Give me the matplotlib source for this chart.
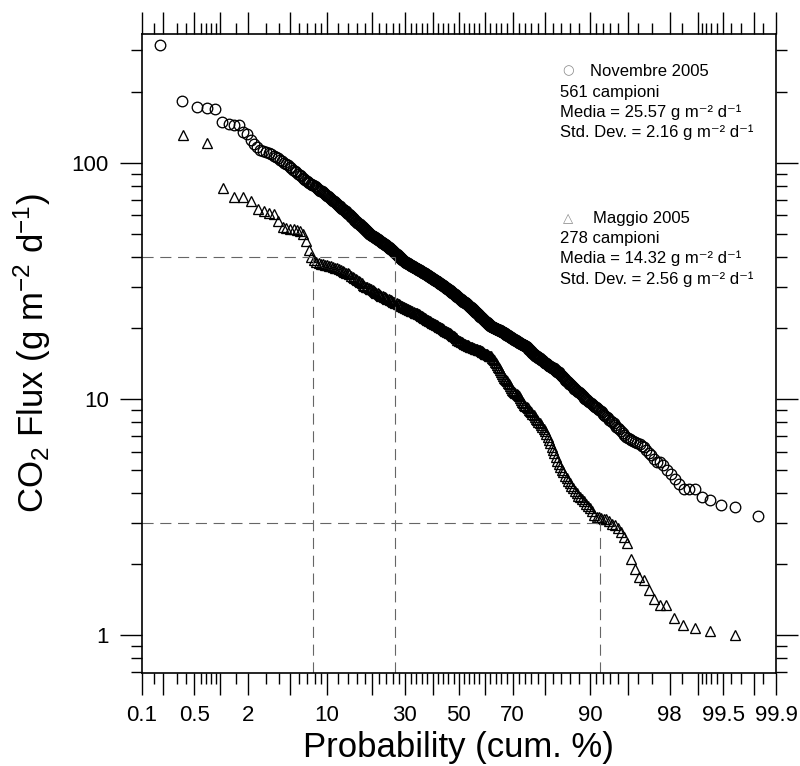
import numpy as np
import matplotlib
matplotlib.use("Agg")
import matplotlib.pyplot as plt
from matplotlib.ticker import FixedLocator, FixedFormatter, NullFormatter
from statistics import NormalDist

# CO2 flux (g m-2 d-1), one value per sample, sorted from highest to lowest
nov_2005 = [
    315, 184, 172, 171, 170, 149, 146, 145, 145, 135,
    133, 125, 120, 117, 114, 112, 111, 110, 109, 107,
    106, 105, 103.5, 102, 100.5, 99, 97.8, 96.4, 95, 93.8,
    92.6, 91.4, 90.2, 89.0, 87.8, 86.6, 85.5, 84.6, 83.9, 83.2,
    82.5, 81.8, 81.1, 80.4, 79.8, 79.1, 78.5, 77.8, 77.2, 76.5,
    75.9, 75.3, 74.7, 74.1, 73.5, 72.9, 72.3, 71.7, 71.1, 70.5,
    69.9, 69.3, 68.8, 68.2, 67.7, 67.1, 66.6, 66.1, 65.6, 65.1,
    64.7, 64.2, 63.8, 63.3, 62.9, 62.4, 62.0, 61.5, 61.1, 60.6,
    60.2, 59.8, 59.3, 58.9, 58.5, 58.0, 57.6, 57.1, 56.8, 56.4,
    56.0, 55.7, 55.3, 55.0, 54.6, 54.3, 53.9, 53.6, 53.2, 52.9,
    52.6, 52.2, 51.9, 51.6, 51.3, 50.9, 50.6, 50.3, 50.0, 49.7,
    49.5, 49.3, 49.1, 48.9, 48.7, 48.5, 48.3, 48.1, 47.9, 47.7,
    47.5, 47.3, 47.1, 46.9, 46.7, 46.5, 46.3, 46.1, 45.9, 45.7,
    45.5, 45.4, 45.2, 45.0, 44.8, 44.6, 44.4, 44.2, 44.0, 43.8,
    43.6, 43.4, 43.2, 43.0, 42.8, 42.6, 42.4, 42.2, 42.0, 41.8,
    41.6, 41.4, 41.2, 41.0, 40.8, 40.6, 40.4, 40.2, 40.0, 39.8,
    39.6, 39.4, 39.2, 39.0, 38.8, 38.6, 38.4, 38.3, 38.2, 38.1,
    37.9, 37.8, 37.7, 37.6, 37.5, 37.4, 37.3, 37.2, 37.1, 36.9,
    36.8, 36.7, 36.6, 36.5, 36.4, 36.3, 36.2, 36.1, 36.0, 35.9,
    35.8, 35.7, 35.6, 35.5, 35.4, 35.3, 35.2, 35.1, 35.0, 34.9,
    34.8, 34.7, 34.6, 34.5, 34.4, 34.3, 34.2, 34.1, 34.0, 33.9,
    33.8, 33.7, 33.6, 33.5, 33.4, 33.3, 33.2, 33.1, 33.0, 32.9,
    32.8, 32.7, 32.6, 32.5, 32.4, 32.3, 32.2, 32.1, 32.0, 31.9,
    31.8, 31.7, 31.6, 31.6, 31.5, 31.4, 31.3, 31.2, 31.1, 31.0,
    30.9, 30.8, 30.7, 30.6, 30.5, 30.4, 30.3, 30.2, 30.1, 30.0,
    29.9, 29.8, 29.7, 29.6, 29.5, 29.4, 29.3, 29.2, 29.1, 29.0,
    28.9, 28.8, 28.7, 28.6, 28.5, 28.4, 28.3, 28.2, 28.1, 28.0,
    27.9, 27.8, 27.7, 27.6, 27.5, 27.4, 27.3, 27.2, 27.1, 27.0,
    26.9, 26.8, 26.7, 26.6, 26.5, 26.4, 26.3, 26.2, 26.1, 26.0,
    25.9, 25.8, 25.7, 25.7, 25.6, 25.6, 25.5, 25.4, 25.3, 25.2,
    25.1, 25.0, 24.9, 24.8, 24.7, 24.6, 24.5, 24.4, 24.3, 24.2,
    24.1, 24.0, 23.9, 23.8, 23.7, 23.6, 23.5, 23.4, 23.3, 23.2,
    23.1, 23.0, 22.9, 22.8, 22.7, 22.6, 22.5, 22.4, 22.3, 22.2,
    22.1, 22.0, 21.9, 21.8, 21.7, 21.6, 21.5, 21.4, 21.3, 21.2,
    21.15, 21.1, 21.0, 20.9, 20.8, 20.75, 20.7, 20.6, 20.5, 20.45,
    20.4, 20.3, 20.25, 20.2, 20.15, 20.1, 20.05, 20.0, 19.95, 19.9,
    19.85, 19.8, 19.75, 19.7, 19.7, 19.65, 19.6, 19.6, 19.55, 19.5,
    19.4, 19.35, 19.3, 19.25, 19.2, 19.1, 19.05, 19.0, 18.95, 18.9,
    18.8, 18.75, 18.7, 18.65, 18.6, 18.5, 18.45, 18.4, 18.35, 18.3,
    18.2, 18.15, 18.1, 18.05, 18.0, 17.95, 17.9, 17.8, 17.75, 17.7,
    17.65, 17.6, 17.55, 17.5, 17.4, 17.35, 17.3, 17.25, 17.2, 17.15,
    17.1, 17.05, 17.0, 16.95, 16.9, 16.85, 16.8, 16.75, 16.7, 16.6,
    16.5, 16.4, 16.3, 16.2, 16.1, 16.0, 15.9, 15.8, 15.7, 15.6,
    15.5, 15.5, 15.4, 15.3, 15.3, 15.2, 15.1, 15.1, 15.0, 14.9,
    14.9, 14.8, 14.7, 14.7, 14.6, 14.5, 14.5, 14.4, 14.3, 14.3,
    14.2, 14.1, 14.1, 14.0, 13.9, 13.9, 13.8, 13.7, 13.7, 13.6,
    13.5, 13.5, 13.4, 13.3, 13.3, 13.2, 13.1, 13.1, 13.0, 12.9,
    12.8, 12.7, 12.6, 12.5, 12.4, 12.3, 12.2, 12.1, 12.0, 11.9,
    11.8, 11.75, 11.65, 11.55, 11.45, 11.4, 11.3, 11.2, 11.1, 11.05,
    10.95, 10.85, 10.75, 10.7, 10.6, 10.5, 10.4, 10.35, 10.25, 10.15,
    10.05, 10.0, 9.9, 9.8, 9.7, 9.65, 9.55, 9.5, 9.4, 9.3,
    9.25, 9.15, 9.1, 9.0, 8.9, 8.8, 8.7, 8.6, 8.5, 8.4,
    8.3, 8.2, 8.1, 8.0, 7.9, 7.8, 7.65, 7.55, 7.45, 7.35,
    7.2, 7.05, 6.9, 6.85, 6.8, 6.7, 6.65, 6.6, 6.5, 6.45,
    6.35, 6.25, 6.1, 5.95, 5.8, 5.6, 5.45, 5.4, 5.25, 5.03,
    4.81, 4.61, 4.39, 4.18, 4.18, 4.18, 3.85, 3.73, 3.56, 3.50, 3.22,
]

mag_2005 = [
    131, 122, 78.4, 72.2, 72.2, 68.8, 63.9, 62.8, 61.4, 60.8,
    57.0, 53.6, 53.0, 52.5, 52.4, 52.0, 51.5, 50.0, 46.8, 42.9,
    40.2, 38.9, 38.2, 37.7, 37.5, 37.3, 37.1, 36.9, 36.7, 36.5,
    36.3, 36.1, 35.9, 35.6, 35.3, 35.0, 34.7, 34.4, 34.1, 33.8,
    33.3, 33.0, 32.6, 32.3, 32.0, 31.6, 31.3, 31.0, 30.6, 30.3,
    30.0, 29.8, 29.6, 29.4, 29.2, 29.0, 28.7, 28.5, 28.3, 28.1,
    27.9, 27.7, 27.5, 27.3, 27.1, 27.0, 26.8, 26.7, 26.5, 26.4,
    26.2, 26.1, 25.9, 25.8, 25.6, 25.5, 25.3, 25.2, 25.0, 24.9,
    24.8, 24.6, 24.5, 24.4, 24.3, 24.2, 24.0, 23.9, 23.8, 23.7,
    23.6, 23.4, 23.3, 23.2, 23.1, 23.0, 22.9, 22.7, 22.6, 22.5,
    22.4, 22.2, 22.1, 22.0, 21.9, 21.7, 21.6, 21.5, 21.4, 21.2,
    21.1, 21.0, 20.9, 20.8, 20.7, 20.6, 20.4, 20.3, 20.2, 20.1,
    20.0, 19.9, 19.8, 19.7, 19.5, 19.4, 19.3, 19.2, 19.1, 19.0,
    18.9, 18.7, 18.6, 18.5, 18.3, 18.2, 18.1, 17.9, 17.8, 17.7,
    17.6, 17.5, 17.4, 17.3, 17.2, 17.1, 17.0, 16.95, 16.9, 16.85,
    16.8, 16.7, 16.65, 16.6, 16.5, 16.45, 16.4, 16.35, 16.3, 16.2,
    16.15, 16.1, 16.05, 16.0, 15.9, 15.8, 15.7, 15.6, 15.6, 15.5,
    15.4, 15.3, 15.25, 15.2, 15.0, 14.8, 14.6, 14.4, 14.2, 14.0,
    13.75, 13.5, 13.25, 13.0, 12.75, 12.5, 12.35, 12.2, 12.05, 11.9,
    11.75, 11.6, 11.4, 11.2, 11.0, 10.85, 10.75, 10.65, 10.55, 10.4,
    10.3, 10.15, 9.95, 9.75, 9.6, 9.5, 9.35, 9.25, 9.15, 9.0,
    8.9, 8.8, 8.65, 8.55, 8.4, 8.25, 8.15, 8.0, 7.9, 7.75,
    7.65, 7.5, 7.35, 7.15, 6.95, 6.75, 6.55, 6.3, 6.1, 5.9,
    5.7, 5.5, 5.3, 5.15, 5.0, 4.9, 4.75, 4.65, 4.5, 4.4,
    4.3, 4.2, 4.1, 4.0, 3.9, 3.84, 3.77, 3.7, 3.62, 3.54,
    3.45, 3.35, 3.25, 3.18, 3.16, 3.15, 3.12, 3.10, 3.05, 2.97,
    2.93, 2.85, 2.74, 2.62, 2.47, 2.11, 1.91, 1.77, 1.72, 1.56,
    1.43, 1.34, 1.34, 1.18, 1.11, 1.08, 1.04, 1.0,
]

# dashed guides: flux level and the cum. % where the sets cross it
guide_flux = [40, 3]
guide_prob = [[7.8, 26.7], [91.5]]

prob_labels = [0.1, 0.5, 2, 10, 30, 50, 70, 90, 98, 99.5, 99.9]
prob_long = [0.1, 0.2, 0.5, 1, 2, 5, 10, 20, 30, 40, 50, 60, 70, 80,
             90, 95, 98, 99, 99.5, 99.8, 99.9]
prob_short = [0.15, 0.3, 0.4, 0.6, 0.7, 0.8, 0.9, 1.5, 3, 4, 6, 7, 8, 9,
              12, 14, 16, 18, 22, 24, 26, 28, 32, 34, 36, 38, 42, 44, 46, 48]
prob_short = prob_short + [100 - p for p in prob_short]

plt.rcParams['font.family'] = ['Liberation Sans', 'DejaVu Sans']
plt.rcParams['mathtext.fontset'] = 'custom'
plt.rcParams['mathtext.rm'] = 'Liberation Sans'
plt.rcParams['mathtext.it'] = 'Liberation Sans:italic'

nd = NormalDist()
_ppf = np.vectorize(lambda q: nd.inv_cdf(q), otypes=[float])
_cdf = np.vectorize(lambda t: nd.cdf(t), otypes=[float])


def prob_fwd(p):
    p = np.clip(np.asarray(p, dtype=float), 1e-7, 100 - 1e-7)
    return _ppf(p / 100.0)


def prob_inv(z):
    return _cdf(np.asarray(z, dtype=float)) * 100.0


def plot_pos(vals):
    n = len(vals)
    return [100.0 * (i + 1) / (n + 1) for i in range(n)]


fig = plt.figure(figsize=(8, 7.66), dpi=100)
ax = fig.add_axes([141.5 / 800, 1 - 672.5 / 766, 634.5 / 800, 638.5 / 766])
ax.set_xscale('function', functions=(prob_fwd, prob_inv))
ax.set_yscale('log')
ax.set_xlim(0.1, 99.9)
ax.set_ylim(0.697, 352)

ax.plot(plot_pos(nov_2005), nov_2005, ls='none', marker='o', ms=7.6,
        mfc='none', mec='black', mew=0.95)
ax.plot(plot_pos(mag_2005), mag_2005, ls='none', marker='^', ms=7.2,
        mfc='none', mec='black', mew=0.95)

x0 = ax.get_xlim()[0]
y0 = ax.get_ylim()[0]
for lvl, probs in zip(guide_flux, guide_prob):
    ax.hlines(lvl, x0, max(probs), colors='0.4', lw=0.8, ls=(0, (10, 6)))
    ax.vlines(probs, y0, lvl, colors='0.4', lw=0.8, ls=(0, (10, 6)))

# x axis: probability ticks
ax.xaxis.set_major_locator(FixedLocator(prob_long))
ax.xaxis.set_major_formatter(FixedFormatter(
    [('%g' % p) if p in prob_labels else '' for p in prob_long]))
ax.xaxis.set_minor_locator(FixedLocator(prob_short))
ax.xaxis.set_minor_formatter(NullFormatter())

# y axis
ax.yaxis.set_major_locator(FixedLocator([1, 10, 100]))
ax.yaxis.set_major_formatter(FixedFormatter(['1', '10', '100']))
ax.yaxis.set_minor_locator(FixedLocator(
    [0.7, 0.8, 0.9] + list(range(2, 10)) + list(range(20, 100, 10)) + [200, 300]))
ax.yaxis.set_minor_formatter(NullFormatter())

ax.tick_params(which='both', direction='out', top=True, right=True,
               width=1.0, color='black')
ax.tick_params(which='major', length=15.5, labelsize=16, pad=8)
ax.tick_params(which='minor', length=8)
for s in ax.spines.values():
    s.set_linewidth(1.2)

ax.set_xlabel('Probability (cum. %)', fontsize=25, va='center')
ax.xaxis.set_label_coords(0.5, -0.118)
ax.set_ylabel('CO$_2$ Flux (g m$^{-2}$ d$^{-1}$)', fontsize=25, va='center')
ax.yaxis.set_label_coords(-0.172, 0.5)

# annotation blocks
def px(x, y):
    return x / 800, 1 - y / 766

fs = 12
unit = 'g m\u207b\u00b2 d\u207b\u00b9'
fig.text(*px(568, 71), '\u25cb', fontsize=9.5, color='0.55', ha='center', va='center',
         family=['DejaVu Sans'])
fig.text(*px(590, 76.5), 'Novembre 2005', fontsize=fs, va='baseline')
fig.text(*px(560, 96.5), '561 campioni', fontsize=fs, va='baseline')
fig.text(*px(560, 117), 'Media = 25.57 ' + unit, fontsize=fs, va='baseline')
fig.text(*px(560, 137.5), 'Std. Dev. = 2.16 ' + unit, fontsize=fs, va='baseline')

fig.text(*px(568, 219), '\u25b3', fontsize=9.5, color='0.55', ha='center', va='center',
         family=['DejaVu Sans'])
fig.text(*px(593, 223.5), 'Maggio 2005', fontsize=fs, va='baseline')
fig.text(*px(560, 243), '278 campioni', fontsize=fs, va='baseline')
fig.text(*px(560, 263.5), 'Media = 14.32 ' + unit, fontsize=fs, va='baseline')
fig.text(*px(560, 284), 'Std. Dev. = 2.56 ' + unit, fontsize=fs, va='baseline')

fig.savefig('out.png', dpi=100)
